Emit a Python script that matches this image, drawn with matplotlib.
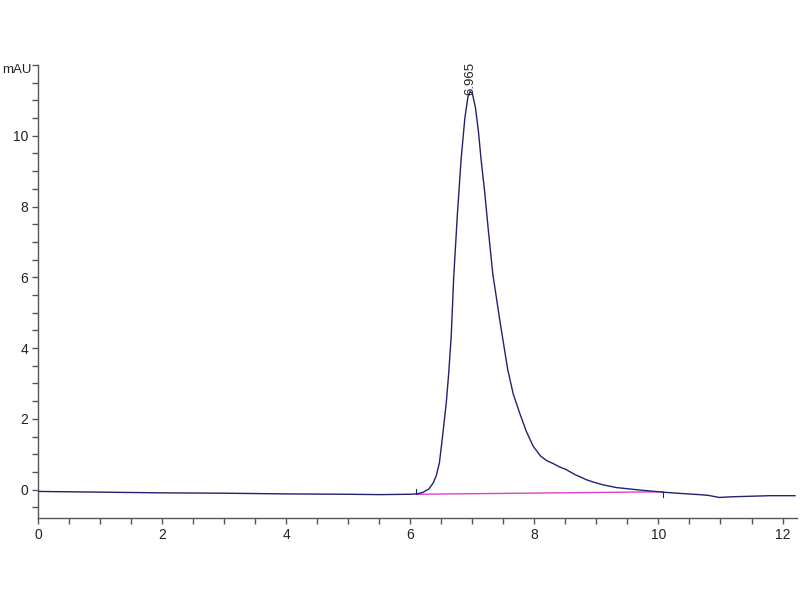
import matplotlib
matplotlib.use('Agg')
import matplotlib.pyplot as plt
from matplotlib.ticker import MultipleLocator, FixedLocator

plt.rcParams['font.family'] = ['Liberation Sans', 'DejaVu Sans']

## chromatogram trace
time_min = [0, 1, 2, 3, 4, 5, 5.5, 6.0, 6.1, 6.2, 6.3, 6.37, 6.42, 6.47, 6.52, 6.58, 6.62,
            6.66, 6.70, 6.76, 6.82, 6.88, 6.93, 6.965, 7.0, 7.05, 7.1, 7.14, 7.2, 7.26, 7.33,
            7.44, 7.57, 7.66, 7.76, 7.87, 7.98, 8.1, 8.2, 8.3, 8.41, 8.51, 8.65, 8.84, 8.94,
            9.1, 9.32, 9.48, 9.7, 10.07, 10.3, 10.66, 10.8, 10.98, 11.2, 11.41, 11.8, 12.2]
signal_mau = [-0.05, -0.07, -0.09, -0.10, -0.12, -0.13, -0.14, -0.13, -0.12, -0.08, 0.02,
              0.19, 0.40, 0.76, 1.5, 2.45, 3.3, 4.34, 6.0, 7.8, 9.35, 10.5, 11.1, 11.25, 11.2,
              10.8, 10.1, 9.35, 8.4, 7.3, 6.1, 4.82, 3.4, 2.7, 2.18, 1.65, 1.23, 0.95, 0.82,
              0.74, 0.64, 0.57, 0.43, 0.28, 0.22, 0.14, 0.06, 0.03, -0.01, -0.07, -0.10,
              -0.14, -0.16, -0.22, -0.20, -0.19, -0.17, -0.17]

## integration baseline
base_t = [6.1, 10.07]
base_v = [-0.13, -0.06]

peak_t = 6.965
peak_v = 11.25
peak_label = '6.965'

y_labels = [0, 2, 4, 6, 8, 10]

fig = plt.figure(figsize=(8, 6), dpi=100)
ax = fig.add_axes([0.0475, 0.1367, 0.9485, 0.755])

ax.plot(time_min, signal_mau, color='#22226e', lw=1.0, zorder=3)
ax.plot(base_t, base_v, color='#e040c8', lw=1.0, zorder=2)
# peak start / end markers
ax.plot([base_t[0], base_t[0]], [base_v[0], base_v[0] + 0.15], color='#22226e', lw=0.8)
ax.plot([base_t[1], base_t[1]], [base_v[1], base_v[1] - 0.15], color='#22226e', lw=0.8)

ax.text(peak_t, peak_v - 0.1, peak_label, rotation=90, ha='center', va='bottom',
        fontsize=9.5, color='#222222')

ax.set_xlim(0, 12.23)
ax.set_ylim(-0.8, 12.0)

for s in ['top', 'right']:
    ax.spines[s].set_visible(False)
for s in ['left', 'bottom']:
    ax.spines[s].set_color('#555555')
    ax.spines[s].set_linewidth(1.0)

ax.xaxis.set_major_locator(MultipleLocator(2))
ax.xaxis.set_minor_locator(MultipleLocator(0.5))
ax.yaxis.set_major_locator(FixedLocator(y_labels))
ax.yaxis.set_minor_locator(MultipleLocator(0.5))
ax.tick_params(which='both', direction='out', length=4, width=1, color='#555555')
ax.tick_params(which='major', labelsize=10, labelcolor='#222222', pad=3)

ax.text(-0.009, 0.99, 'mAU', transform=ax.transAxes, ha='right', va='center',
        fontsize=9.5, color='#222222')

plt.savefig('out.png', dpi=100)
